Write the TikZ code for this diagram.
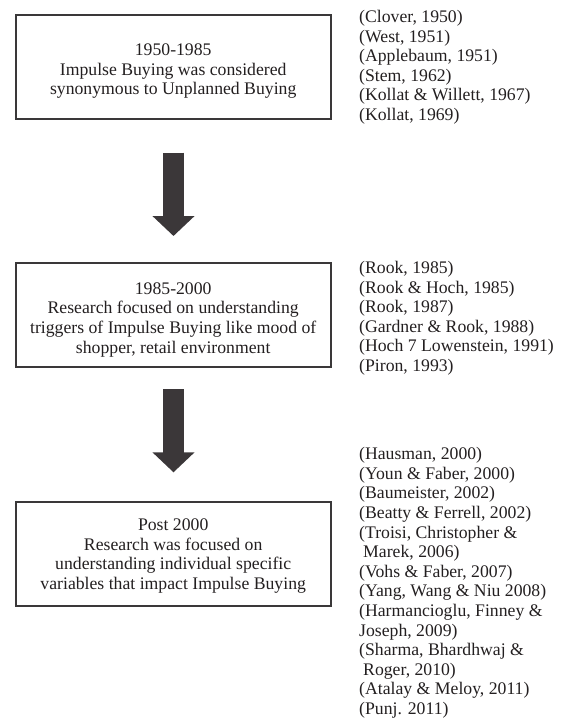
\documentclass[tikz,border=0pt]{standalone}
\usepackage{fontspec}
\setmainfont{Liberation Serif}
\usetikzlibrary{arrows.meta}
\definecolor{ink}{HTML}{231F20}
\definecolor{boxline}{HTML}{3A3839}
\definecolor{arrowfill}{HTML}{3B3739}
\begin{document}
\begin{tikzpicture}[x=1pt,y=-1pt,
  every node/.style={font=\fontsize{17.7}{19.6}\selectfont, text=ink},
  periodbox/.style={draw=boxline, line width=2pt, minimum width=315pt, minimum height=104pt, align=center, inner sep=0pt},
  citelist/.style={align=left, anchor=base west, inner sep=0pt},
  bigarrow/.style={draw=arrowfill, line width=21pt, -{Triangle[width=41pt,length=20pt]}}]
\useasboundingbox (0,0) rectangle (561,720);

\node[periodbox] (box1) at (173.2,67.2) {\rule{0pt}{20pt}1950-1985\\Impulse Buying was considered\\synonymous to Unplanned Buying};
\node[periodbox] (box2) at (173.2,314.5) {\rule{0pt}{22pt}1985-2000\\Research focused on understanding\\triggers of Impulse Buying like mood of\\shopper, retail environment};
\node[periodbox] (box3) at (173.2,554) {\rule{0pt}{16pt}Post 2000\\Research was focused on\\understanding individual specific\\variables that impact Impulse Buying};

% base anchor = baseline of the last line
\node[citelist] (cite1) at (359,120.5) {(Clover, 1950)\\(West, 1951)\\(Applebaum, 1951)\\(Stem, 1962)\\(Kollat \& Willett, 1967)\\(Kollat, 1969)};
\node[citelist] (cite2) at (359,371.5) {(Rook, 1985)\\(Rook \& Hoch, 1985)\\(Rook, 1987)\\(Gardner \& Rook, 1988)\\(Hoch 7 Lowenstein, 1991)\\(Piron, 1993)};
\node[citelist] (cite3) at (359,714.5) {(Hausman, 2000)\\(Youn \& Faber, 2000)\\(Baumeister, 2002)\\(Beatty \& Ferrell, 2002)\\(Troisi, Christopher \&\\\hspace*{4pt}Marek, 2006)\\(Vohs \& Faber, 2007)\\(Yang, Wang \& Niu 2008)\\(Harmancioglu, Finney \&\\Joseph, 2009)\\(Sharma, Bhardhwaj \&\\\hspace*{4pt}Roger, 2010)\\(Atalay \& Meloy, 2011)\\(Punj. 2011)};

\coordinate (a1start) at (173.5,152.7);
\coordinate (a1tip) at (173.5,236);
\coordinate (a2start) at (173.5,389);
\coordinate (a2tip) at (173.5,472.3);
\draw[bigarrow] (a1start) -- (a1tip);
\draw[bigarrow] (a2start) -- (a2tip);
\end{tikzpicture}
\end{document}
